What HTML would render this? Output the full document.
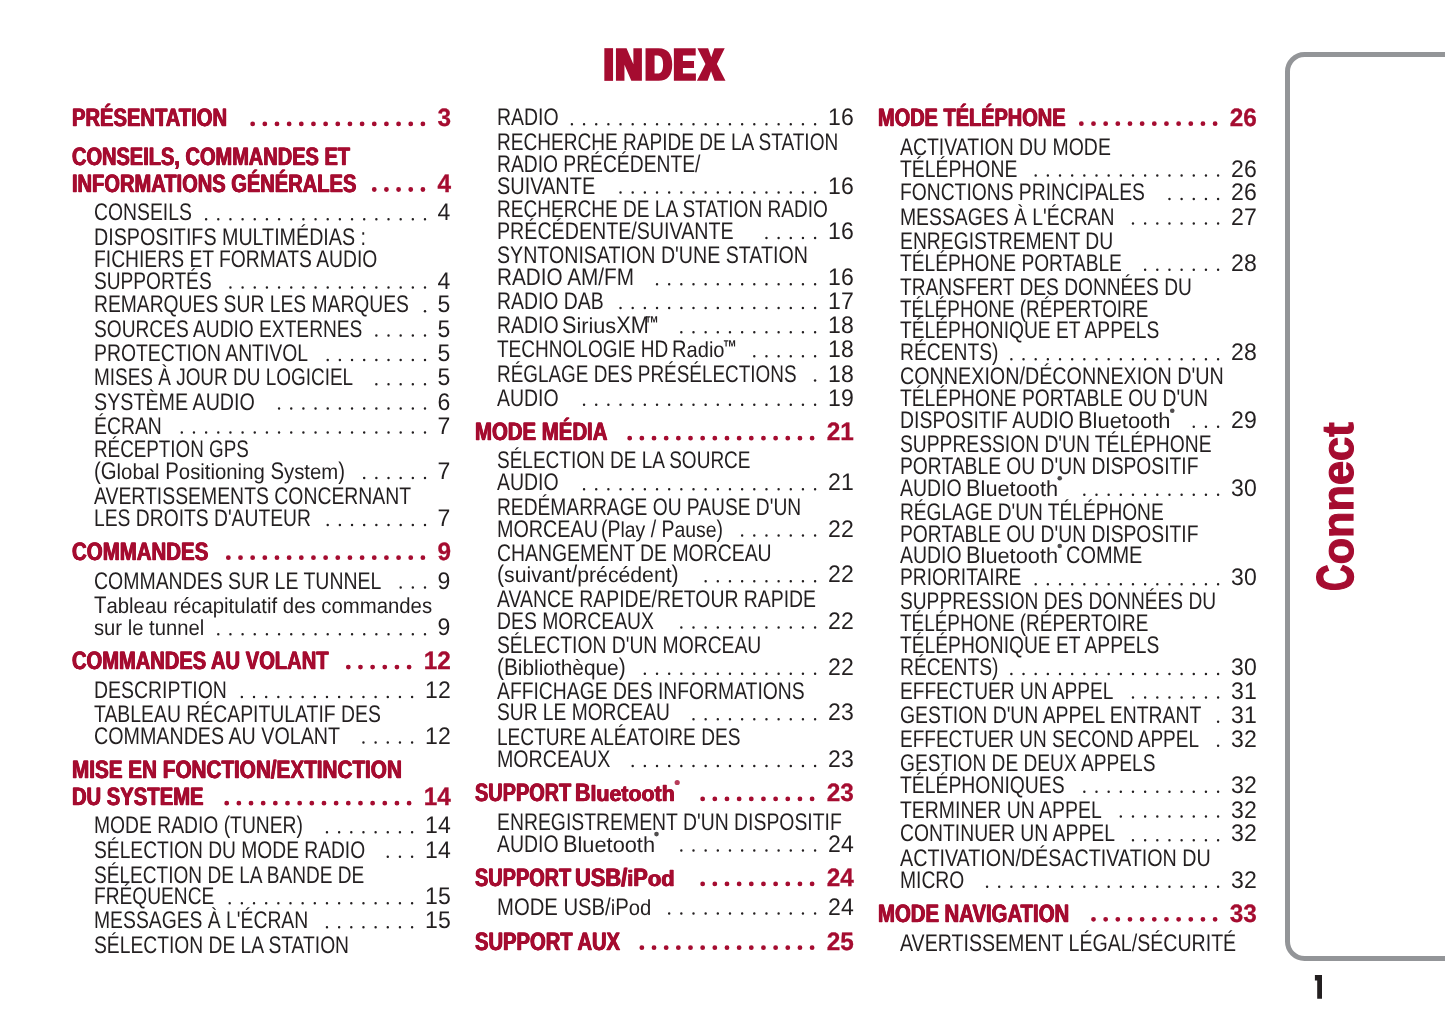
<!DOCTYPE html>
<html lang="fr">
<head>
<meta charset="utf-8">
<title>INDEX</title>
<style>
html,body{margin:0;padding:0;background:#fff;overflow:hidden;}
html{width:1445px;height:1020px;}
body{width:1445px;height:1020px;position:relative;overflow:hidden;font-family:"Liberation Sans",sans-serif;}
.t{position:absolute;white-space:pre;line-height:1;transform-origin:0 0;text-rendering:geometricPrecision;}
.i{color:#231f20;font-size:24px;font-weight:400;}
.h{color:#a50c30;font-size:25.1px;font-weight:700;-webkit-text-stroke:0.3px #a50c30;text-shadow:0.6px 0 0 #a50c30,-0.6px 0 0 #a50c30;}
.hp{color:#a50c30;font-size:25.1px;font-weight:700;-webkit-text-stroke:0.3px #a50c30;}
.lc{display:inline-block;}
.i .lc{transform:scaleY(0.9);transform-origin:0 19px;}
.h .lc{transform:scaleY(0.88);transform-origin:0 20px;}
.p{position:absolute;white-space:pre;line-height:1;text-align:right;transform-origin:100% 0;text-rendering:geometricPrecision;}
svg{position:absolute;left:0;top:0;}
#page{position:absolute;left:0;top:0;width:1445px;height:1020px;will-change:transform;overflow:hidden;}
</style>
</head>
<body>
<div id="page">
<div style="position:absolute;left:1284.8px;top:52.3px;width:300px;height:908.4px;box-sizing:border-box;border:5px solid #939598;border-radius:19.5px;"></div>
<div class="t h" style="left:71.50px;top:106px;transform:scaleX(0.8037)">PRÉSENTATION</div>
<div class="t h" style="left:71.50px;top:145px;transform:scaleX(0.7977)">CONSEILS, COMMANDES ET</div>
<div class="t h" style="left:71.50px;top:172px;transform:scaleX(0.8008)">INFORMATIONS GÉNÉRALES</div>
<div class="t i" style="left:93.70px;top:201px;transform:scaleX(0.8064)">CONSEILS</div>
<div class="t i" style="left:93.70px;top:226px;transform:scaleX(0.8204)">DISPOSITIFS MULTIMÉDIAS :</div>
<div class="t i" style="left:93.70px;top:248px;transform:scaleX(0.8039)">FICHIERS ET FORMATS AUDIO</div>
<div class="t i" style="left:93.70px;top:270px;transform:scaleX(0.7970)">SUPPORTÉS</div>
<div class="t i" style="left:93.70px;top:293px;transform:scaleX(0.8033)">REMARQUES SUR LES MARQUES</div>
<div class="t i" style="left:93.70px;top:318px;transform:scaleX(0.7986)">SOURCES AUDIO EXTERNES</div>
<div class="t i" style="left:93.70px;top:342px;transform:scaleX(0.8066)">PROTECTION ANTIVOL</div>
<div class="t i" style="left:93.70px;top:366px;transform:scaleX(0.7897)">MISES À JOUR DU LOGICIEL</div>
<div class="t i" style="left:93.70px;top:391px;transform:scaleX(0.8206)">SYSTÈME AUDIO</div>
<div class="t i" style="left:93.70px;top:415px;transform:scaleX(0.8078)">ÉCRAN</div>
<div class="t i" style="left:93.70px;top:438px;transform:scaleX(0.7840)">RÉCEPTION GPS</div>
<div class="t i" style="left:93.70px;top:460px;transform:scaleX(0.8475)">(G<span class="lc">lobal</span> P<span class="lc">ositioning</span> S<span class="lc">ystem</span>)</div>
<div class="t i" style="left:93.70px;top:485px;transform:scaleX(0.8079)">AVERTISSEMENTS CONCERNANT</div>
<div class="t i" style="left:93.70px;top:507px;transform:scaleX(0.8035)">LES DROITS D'AUTEUR</div>
<div class="t h" style="left:71.50px;top:540px;transform:scaleX(0.8149)">COMMANDES</div>
<div class="t i" style="left:93.70px;top:570px;transform:scaleX(0.8111)">COMMANDES SUR LE TUNNEL</div>
<div class="t i" style="left:93.70px;top:594px;transform:scaleX(0.8475)">T<span class="lc">ableau</span> <span class="lc">récapitulatif</span> <span class="lc">des</span> <span class="lc">commandes</span></div>
<div class="t i" style="left:93.70px;top:616px;transform:scaleX(0.8423)"><span class="lc">sur</span> <span class="lc">le</span> <span class="lc">tunnel</span></div>
<div class="t h" style="left:71.50px;top:649px;transform:scaleX(0.8023)">COMMANDES AU VOLANT</div>
<div class="t i" style="left:93.70px;top:679px;transform:scaleX(0.8101)">DESCRIPTION</div>
<div class="t i" style="left:93.70px;top:703px;transform:scaleX(0.8077)">TABLEAU RÉCAPITULATIF DES</div>
<div class="t i" style="left:93.70px;top:725px;transform:scaleX(0.8200)">COMMANDES AU VOLANT</div>
<div class="t h" style="left:71.50px;top:758px;transform:scaleX(0.8244)">MISE EN FONCTION/EXTINCTION</div>
<div class="t h" style="left:71.50px;top:785px;transform:scaleX(0.8061)">DU SYSTEME</div>
<div class="t i" style="left:93.70px;top:814px;transform:scaleX(0.8037)">MODE RADIO (TUNER)</div>
<div class="t i" style="left:93.70px;top:839px;transform:scaleX(0.8005)">SÉLECTION DU MODE RADIO</div>
<div class="t i" style="left:93.70px;top:864px;transform:scaleX(0.7947)">SÉLECTION DE LA BANDE DE</div>
<div class="t i" style="left:93.70px;top:885px;transform:scaleX(0.7983)">FRÉQUENCE</div>
<div class="t i" style="left:93.70px;top:909px;transform:scaleX(0.8053)">MESSAGES À L'ÉCRAN</div>
<div class="t i" style="left:93.70px;top:934px;transform:scaleX(0.8023)">SÉLECTION DE LA STATION</div>
<div class="t i" style="left:496.70px;top:106px;transform:scaleX(0.8103)">RADIO</div>
<div class="t i" style="left:496.70px;top:131px;transform:scaleX(0.7938)">RECHERCHE RAPIDE DE LA STATION</div>
<div class="t i" style="left:496.70px;top:153px;transform:scaleX(0.8026)">RADIO PRÉCÉDENTE/</div>
<div class="t i" style="left:496.70px;top:175px;transform:scaleX(0.8310)">SUIVANTE</div>
<div class="t i" style="left:496.70px;top:198px;transform:scaleX(0.7944)">RECHERCHE DE LA STATION RADIO</div>
<div class="t i" style="left:496.70px;top:220px;transform:scaleX(0.8188)">PRÉCÉDENTE/SUIVANTE</div>
<div class="t i" style="left:496.70px;top:244px;transform:scaleX(0.8177)">SYNTONISATION D'UNE STATION</div>
<div class="t i" style="left:496.70px;top:266px;transform:scaleX(0.8628)">RADIO AM/FM</div>
<div class="t i" style="left:496.70px;top:290px;transform:scaleX(0.8081)">RADIO DAB</div>
<div class="t i" style="left:496.70px;top:314px;transform:scaleX(0.8099)">RADIO</div>
<div class="t i" style="left:561.70px;top:314px;transform:scaleX(0.9030)">S<span class="lc">irius</span>XM</div>
<div class="t i" style="left:496.70px;top:338px;transform:scaleX(0.7929)">TECHNOLOGIE HD</div>
<div class="t i" style="left:672.45px;top:338px;transform:scaleX(0.8377)">R<span class="lc">adio</span></div>
<div class="t i" style="left:496.70px;top:363px;transform:scaleX(0.7880)">RÉGLAGE DES PRÉSÉLECTIONS</div>
<div class="t i" style="left:496.70px;top:387px;transform:scaleX(0.8103)">AUDIO</div>
<div class="t h" style="left:474.50px;top:420px;transform:scaleX(0.8123)">MODE MÉDIA</div>
<div class="t i" style="left:496.70px;top:449px;transform:scaleX(0.7920)">SÉLECTION DE LA SOURCE</div>
<div class="t i" style="left:496.70px;top:471px;transform:scaleX(0.8103)">AUDIO</div>
<div class="t i" style="left:496.70px;top:496px;transform:scaleX(0.7999)">REDÉMARRAGE OU PAUSE D'UN</div>
<div class="t i" style="left:496.70px;top:518px;transform:scaleX(0.8231)">MORCEAU</div>
<div class="t i" style="left:601.35px;top:518px;transform:scaleX(0.8097)">(P<span class="lc">lay</span> / P<span class="lc">ause</span>)</div>
<div class="t i" style="left:496.70px;top:542px;transform:scaleX(0.8086)">CHANGEMENT DE MORCEAU</div>
<div class="t i" style="left:496.70px;top:563px;transform:scaleX(0.8843)">(<span class="lc">suivant</span>/<span class="lc">précédent</span>)</div>
<div class="t i" style="left:496.70px;top:588px;transform:scaleX(0.8082)">AVANCE RAPIDE/RETOUR RAPIDE</div>
<div class="t i" style="left:496.70px;top:610px;transform:scaleX(0.8061)">DES MORCEAUX</div>
<div class="t i" style="left:496.70px;top:634px;transform:scaleX(0.8042)">SÉLECTION D'UN MORCEAU</div>
<div class="t i" style="left:496.70px;top:656px;transform:scaleX(0.8687)">(B<span class="lc">ibliothèque</span>)</div>
<div class="t i" style="left:496.70px;top:680px;transform:scaleX(0.8048)">AFFICHAGE DES INFORMATIONS</div>
<div class="t i" style="left:496.70px;top:701px;transform:scaleX(0.7999)">SUR LE MORCEAU</div>
<div class="t i" style="left:496.70px;top:726px;transform:scaleX(0.7959)">LECTURE ALÉATOIRE DES</div>
<div class="t i" style="left:496.70px;top:748px;transform:scaleX(0.8174)">MORCEAUX</div>
<div class="t h" style="left:474.50px;top:781px;transform:scaleX(0.7927)">SUPPORT</div>
<div class="t h" style="left:575.34px;top:781px;transform:scaleX(0.8518)">B<span class="lc">luetooth</span></div>
<div class="t i" style="left:496.70px;top:811px;transform:scaleX(0.8078)">ENREGISTREMENT D'UN DISPOSITIF</div>
<div class="t i" style="left:496.70px;top:833px;transform:scaleX(0.8092)">AUDIO</div>
<div class="t i" style="left:563.10px;top:833px;transform:scaleX(0.9071)">B<span class="lc">luetooth</span></div>
<div class="t h" style="left:474.50px;top:866px;transform:scaleX(0.7927)">SUPPORT</div>
<div class="t h" style="left:575.34px;top:866px;transform:scaleX(0.8709)">USB/<span class="lc">i</span>P<span class="lc">od</span></div>
<div class="t i" style="left:496.70px;top:896px;transform:scaleX(0.8445)">MODE USB/<span class="lc">i</span>P<span class="lc">od</span></div>
<div class="t h" style="left:474.50px;top:930px;transform:scaleX(0.8042)">SUPPORT AUX</div>
<div class="t h" style="left:877.50px;top:106px;transform:scaleX(0.7958)">MODE TÉLÉPHONE</div>
<div class="t i" style="left:899.70px;top:136px;transform:scaleX(0.8095)">ACTIVATION DU MODE</div>
<div class="t i" style="left:899.70px;top:158px;transform:scaleX(0.8069)">TÉLÉPHONE</div>
<div class="t i" style="left:899.70px;top:181px;transform:scaleX(0.8031)">FONCTIONS PRINCIPALES</div>
<div class="t i" style="left:899.70px;top:206px;transform:scaleX(0.8064)">MESSAGES À L'ÉCRAN</div>
<div class="t i" style="left:899.70px;top:230px;transform:scaleX(0.8045)">ENREGISTREMENT DU</div>
<div class="t i" style="left:899.70px;top:252px;transform:scaleX(0.7985)">TÉLÉPHONE PORTABLE</div>
<div class="t i" style="left:899.70px;top:276px;transform:scaleX(0.7978)">TRANSFERT DES DONNÉES DU</div>
<div class="t i" style="left:899.70px;top:298px;transform:scaleX(0.7880)">TÉLÉPHONE (RÉPERTOIRE</div>
<div class="t i" style="left:899.70px;top:319px;transform:scaleX(0.8012)">TÉLÉPHONIQUE ET APPELS</div>
<div class="t i" style="left:899.70px;top:341px;transform:scaleX(0.8028)">RÉCENTS)</div>
<div class="t i" style="left:899.70px;top:365px;transform:scaleX(0.8219)">CONNEXION/DÉCONNEXION D'UN</div>
<div class="t i" style="left:899.70px;top:387px;transform:scaleX(0.8023)">TÉLÉPHONE PORTABLE OU D'UN</div>
<div class="t i" style="left:899.70px;top:409px;transform:scaleX(0.8095)">DISPOSITIF AUDIO</div>
<div class="t i" style="left:1077.90px;top:409px;transform:scaleX(0.9125)">B<span class="lc">luetooth</span></div>
<div class="t i" style="left:899.70px;top:433px;transform:scaleX(0.8023)">SUPPRESSION D'UN TÉLÉPHONE</div>
<div class="t i" style="left:899.70px;top:455px;transform:scaleX(0.8028)">PORTABLE OU D'UN DISPOSITIF</div>
<div class="t i" style="left:899.70px;top:477px;transform:scaleX(0.8092)">AUDIO</div>
<div class="t i" style="left:966.10px;top:477px;transform:scaleX(0.9076)">B<span class="lc">luetooth</span></div>
<div class="t i" style="left:899.70px;top:501px;transform:scaleX(0.7969)">RÉGLAGE D'UN TÉLÉPHONE</div>
<div class="t i" style="left:899.70px;top:523px;transform:scaleX(0.8028)">PORTABLE OU D'UN DISPOSITIF</div>
<div class="t i" style="left:899.70px;top:544px;transform:scaleX(0.8092)">AUDIO</div>
<div class="t i" style="left:966.10px;top:544px;transform:scaleX(0.9076)">B<span class="lc">luetooth</span></div>
<div class="t i" style="left:1066.20px;top:544px;transform:scaleX(0.8307)">COMME</div>
<div class="t i" style="left:899.70px;top:566px;transform:scaleX(0.8004)">PRIORITAIRE</div>
<div class="t i" style="left:899.70px;top:590px;transform:scaleX(0.7980)">SUPPRESSION DES DONNÉES DU</div>
<div class="t i" style="left:899.70px;top:612px;transform:scaleX(0.7880)">TÉLÉPHONE (RÉPERTOIRE</div>
<div class="t i" style="left:899.70px;top:634px;transform:scaleX(0.8012)">TÉLÉPHONIQUE ET APPELS</div>
<div class="t i" style="left:899.70px;top:656px;transform:scaleX(0.8028)">RÉCENTS)</div>
<div class="t i" style="left:899.70px;top:680px;transform:scaleX(0.7958)">EFFECTUER UN APPEL</div>
<div class="t i" style="left:899.70px;top:704px;transform:scaleX(0.8078)">GESTION D'UN APPEL ENTRANT</div>
<div class="t i" style="left:899.70px;top:728px;transform:scaleX(0.7923)">EFFECTUER UN SECOND APPEL</div>
<div class="t i" style="left:899.70px;top:752px;transform:scaleX(0.7983)">GESTION DE DEUX APPELS</div>
<div class="t i" style="left:899.70px;top:774px;transform:scaleX(0.8069)">TÉLÉPHONIQUES</div>
<div class="t i" style="left:899.70px;top:799px;transform:scaleX(0.8088)">TERMINER UN APPEL</div>
<div class="t i" style="left:899.70px;top:822px;transform:scaleX(0.8059)">CONTINUER UN APPEL</div>
<div class="t i" style="left:899.70px;top:847px;transform:scaleX(0.8215)">ACTIVATION/DÉSACTIVATION DU</div>
<div class="t i" style="left:899.70px;top:869px;transform:scaleX(0.8027)">MICRO</div>
<div class="t h" style="left:877.50px;top:902px;transform:scaleX(0.8096)">MODE NAVIGATION</div>
<div class="t i" style="left:899.70px;top:932px;transform:scaleX(0.8157)">AVERTISSEMENT LÉGAL/SÉCURITÉ</div>
<div class="p hp" style="right:994.00px;top:106px;transform:scaleX(0.970)">3</div>
<div class="p hp" style="right:994.00px;top:172px;transform:scaleX(0.970)">4</div>
<div class="p i" style="right:994.60px;top:201px;transform:scaleX(0.960)">4</div>
<div class="p i" style="right:994.60px;top:270px;transform:scaleX(0.960)">4</div>
<div class="p i" style="right:994.60px;top:293px;transform:scaleX(0.960)">5</div>
<div class="p i" style="right:994.60px;top:318px;transform:scaleX(0.960)">5</div>
<div class="p i" style="right:994.60px;top:342px;transform:scaleX(0.960)">5</div>
<div class="p i" style="right:994.60px;top:366px;transform:scaleX(0.960)">5</div>
<div class="p i" style="right:994.60px;top:391px;transform:scaleX(0.960)">6</div>
<div class="p i" style="right:994.60px;top:415px;transform:scaleX(0.960)">7</div>
<div class="p i" style="right:994.60px;top:460px;transform:scaleX(0.960)">7</div>
<div class="p i" style="right:994.60px;top:507px;transform:scaleX(0.960)">7</div>
<div class="p hp" style="right:994.00px;top:540px;transform:scaleX(0.970)">9</div>
<div class="p i" style="right:994.60px;top:570px;transform:scaleX(0.960)">9</div>
<div class="p i" style="right:994.60px;top:616px;transform:scaleX(0.960)">9</div>
<div class="p hp" style="right:994.00px;top:649px;transform:scaleX(0.970)">12</div>
<div class="p i" style="right:994.60px;top:679px;transform:scaleX(0.960)">12</div>
<div class="p i" style="right:994.60px;top:725px;transform:scaleX(0.960)">12</div>
<div class="p hp" style="right:994.00px;top:785px;transform:scaleX(0.970)">14</div>
<div class="p i" style="right:994.60px;top:814px;transform:scaleX(0.960)">14</div>
<div class="p i" style="right:994.60px;top:839px;transform:scaleX(0.960)">14</div>
<div class="p i" style="right:994.60px;top:885px;transform:scaleX(0.960)">15</div>
<div class="p i" style="right:994.60px;top:909px;transform:scaleX(0.960)">15</div>
<div class="p i" style="right:591.60px;top:106px;transform:scaleX(0.960)">16</div>
<div class="p i" style="right:591.60px;top:175px;transform:scaleX(0.960)">16</div>
<div class="p i" style="right:591.60px;top:220px;transform:scaleX(0.960)">16</div>
<div class="p i" style="right:591.60px;top:266px;transform:scaleX(0.960)">16</div>
<div class="p i" style="right:591.60px;top:290px;transform:scaleX(0.960)">17</div>
<div class="p i" style="right:591.60px;top:314px;transform:scaleX(0.960)">18</div>
<div class="p i" style="right:591.60px;top:338px;transform:scaleX(0.960)">18</div>
<div class="p i" style="right:591.60px;top:363px;transform:scaleX(0.960)">18</div>
<div class="p i" style="right:591.60px;top:387px;transform:scaleX(0.960)">19</div>
<div class="p hp" style="right:591.00px;top:420px;transform:scaleX(0.970)">21</div>
<div class="p i" style="right:591.60px;top:471px;transform:scaleX(0.960)">21</div>
<div class="p i" style="right:591.60px;top:518px;transform:scaleX(0.960)">22</div>
<div class="p i" style="right:591.60px;top:563px;transform:scaleX(0.960)">22</div>
<div class="p i" style="right:591.60px;top:610px;transform:scaleX(0.960)">22</div>
<div class="p i" style="right:591.60px;top:656px;transform:scaleX(0.960)">22</div>
<div class="p i" style="right:591.60px;top:701px;transform:scaleX(0.960)">23</div>
<div class="p i" style="right:591.60px;top:748px;transform:scaleX(0.960)">23</div>
<div class="p hp" style="right:591.00px;top:781px;transform:scaleX(0.970)">23</div>
<div class="p i" style="right:591.60px;top:833px;transform:scaleX(0.960)">24</div>
<div class="p hp" style="right:591.00px;top:866px;transform:scaleX(0.970)">24</div>
<div class="p i" style="right:591.60px;top:896px;transform:scaleX(0.960)">24</div>
<div class="p hp" style="right:591.00px;top:930px;transform:scaleX(0.970)">25</div>
<div class="p hp" style="right:188.00px;top:106px;transform:scaleX(0.970)">26</div>
<div class="p i" style="right:188.60px;top:158px;transform:scaleX(0.960)">26</div>
<div class="p i" style="right:188.60px;top:181px;transform:scaleX(0.960)">26</div>
<div class="p i" style="right:188.60px;top:206px;transform:scaleX(0.960)">27</div>
<div class="p i" style="right:188.60px;top:252px;transform:scaleX(0.960)">28</div>
<div class="p i" style="right:188.60px;top:341px;transform:scaleX(0.960)">28</div>
<div class="p i" style="right:188.60px;top:409px;transform:scaleX(0.960)">29</div>
<div class="p i" style="right:188.60px;top:477px;transform:scaleX(0.960)">30</div>
<div class="p i" style="right:188.60px;top:566px;transform:scaleX(0.960)">30</div>
<div class="p i" style="right:188.60px;top:656px;transform:scaleX(0.960)">30</div>
<div class="p i" style="right:188.60px;top:680px;transform:scaleX(0.960)">31</div>
<div class="p i" style="right:188.60px;top:704px;transform:scaleX(0.960)">31</div>
<div class="p i" style="right:188.60px;top:728px;transform:scaleX(0.960)">32</div>
<div class="p i" style="right:188.60px;top:774px;transform:scaleX(0.960)">32</div>
<div class="p i" style="right:188.60px;top:799px;transform:scaleX(0.960)">32</div>
<div class="p i" style="right:188.60px;top:822px;transform:scaleX(0.960)">32</div>
<div class="p i" style="right:188.60px;top:869px;transform:scaleX(0.960)">32</div>
<div class="p hp" style="right:188.00px;top:902px;transform:scaleX(0.970)">33</div>
<div class="t" style="left:645.30px;top:313.70px;font-size:20px;font-weight:700;color:#231f20;transform:scaleX(0.69)">™</div>
<div class="t" style="left:723.40px;top:337.70px;font-size:20px;font-weight:700;color:#231f20;transform:scaleX(0.69)">™</div>
<svg width="1445" height="1020" viewBox="0 0 1445 1020" aria-hidden="true">
<line x1="252.66" y1="123.90" x2="422.91" y2="123.90" stroke="#a50c30" stroke-width="4.8" stroke-linecap="round" stroke-dasharray="0 12.16"/>
<line x1="374.26" y1="189.50" x2="422.91" y2="189.50" stroke="#a50c30" stroke-width="4.8" stroke-linecap="round" stroke-dasharray="0 12.16"/>
<line x1="206.12" y1="219.25" x2="425.01" y2="219.25" stroke="#231f20" stroke-width="2.45" stroke-linecap="round" stroke-dasharray="0 12.16"/>
<line x1="230.44" y1="287.50" x2="425.01" y2="287.50" stroke="#231f20" stroke-width="2.45" stroke-linecap="round" stroke-dasharray="0 12.16"/>
<line x1="425.00" y1="311.15" x2="425.01" y2="311.15" stroke="#231f20" stroke-width="2.45" stroke-linecap="round" stroke-dasharray="0 12.16"/>
<line x1="376.36" y1="335.50" x2="425.01" y2="335.50" stroke="#231f20" stroke-width="2.45" stroke-linecap="round" stroke-dasharray="0 12.16"/>
<line x1="327.72" y1="360.00" x2="425.01" y2="360.00" stroke="#231f20" stroke-width="2.45" stroke-linecap="round" stroke-dasharray="0 12.16"/>
<line x1="376.36" y1="384.25" x2="425.01" y2="384.25" stroke="#231f20" stroke-width="2.45" stroke-linecap="round" stroke-dasharray="0 12.16"/>
<line x1="279.08" y1="408.50" x2="425.01" y2="408.50" stroke="#231f20" stroke-width="2.45" stroke-linecap="round" stroke-dasharray="0 12.16"/>
<line x1="181.80" y1="432.50" x2="425.01" y2="432.50" stroke="#231f20" stroke-width="2.45" stroke-linecap="round" stroke-dasharray="0 12.16"/>
<line x1="364.20" y1="478.00" x2="425.01" y2="478.00" stroke="#231f20" stroke-width="2.45" stroke-linecap="round" stroke-dasharray="0 12.16"/>
<line x1="327.72" y1="525.00" x2="425.01" y2="525.00" stroke="#231f20" stroke-width="2.45" stroke-linecap="round" stroke-dasharray="0 12.16"/>
<line x1="228.34" y1="557.70" x2="422.91" y2="557.70" stroke="#a50c30" stroke-width="4.8" stroke-linecap="round" stroke-dasharray="0 12.16"/>
<line x1="400.68" y1="587.50" x2="425.01" y2="587.50" stroke="#231f20" stroke-width="2.45" stroke-linecap="round" stroke-dasharray="0 12.16"/>
<line x1="218.28" y1="634.25" x2="425.01" y2="634.25" stroke="#231f20" stroke-width="2.45" stroke-linecap="round" stroke-dasharray="0 12.16"/>
<line x1="348.30" y1="667.10" x2="409.11" y2="667.10" stroke="#a50c30" stroke-width="4.8" stroke-linecap="round" stroke-dasharray="0 12.16"/>
<line x1="241.86" y1="697.05" x2="412.11" y2="697.05" stroke="#231f20" stroke-width="2.45" stroke-linecap="round" stroke-dasharray="0 12.16"/>
<line x1="363.46" y1="742.55" x2="412.11" y2="742.55" stroke="#231f20" stroke-width="2.45" stroke-linecap="round" stroke-dasharray="0 12.16"/>
<line x1="226.70" y1="803.20" x2="409.11" y2="803.20" stroke="#a50c30" stroke-width="4.8" stroke-linecap="round" stroke-dasharray="0 12.16"/>
<line x1="326.98" y1="832.25" x2="412.11" y2="832.25" stroke="#231f20" stroke-width="2.45" stroke-linecap="round" stroke-dasharray="0 12.16"/>
<line x1="387.78" y1="856.75" x2="412.11" y2="856.75" stroke="#231f20" stroke-width="2.45" stroke-linecap="round" stroke-dasharray="0 12.16"/>
<line x1="229.70" y1="903.25" x2="412.11" y2="903.25" stroke="#231f20" stroke-width="2.45" stroke-linecap="round" stroke-dasharray="0 12.16"/>
<line x1="326.98" y1="927.25" x2="412.11" y2="927.25" stroke="#231f20" stroke-width="2.45" stroke-linecap="round" stroke-dasharray="0 12.16"/>
<line x1="571.90" y1="124.25" x2="815.11" y2="124.25" stroke="#231f20" stroke-width="2.45" stroke-linecap="round" stroke-dasharray="0 12.16"/>
<line x1="620.54" y1="192.45" x2="815.11" y2="192.45" stroke="#231f20" stroke-width="2.45" stroke-linecap="round" stroke-dasharray="0 12.16"/>
<line x1="766.46" y1="238.00" x2="815.11" y2="238.00" stroke="#231f20" stroke-width="2.45" stroke-linecap="round" stroke-dasharray="0 12.16"/>
<line x1="657.02" y1="284.25" x2="815.11" y2="284.25" stroke="#231f20" stroke-width="2.45" stroke-linecap="round" stroke-dasharray="0 12.16"/>
<line x1="620.54" y1="308.00" x2="815.11" y2="308.00" stroke="#231f20" stroke-width="2.45" stroke-linecap="round" stroke-dasharray="0 12.16"/>
<line x1="681.34" y1="332.25" x2="815.11" y2="332.25" stroke="#231f20" stroke-width="2.45" stroke-linecap="round" stroke-dasharray="0 12.16"/>
<line x1="754.30" y1="356.25" x2="815.11" y2="356.25" stroke="#231f20" stroke-width="2.45" stroke-linecap="round" stroke-dasharray="0 12.16"/>
<line x1="815.10" y1="380.50" x2="815.11" y2="380.50" stroke="#231f20" stroke-width="2.45" stroke-linecap="round" stroke-dasharray="0 12.16"/>
<line x1="584.06" y1="404.75" x2="815.11" y2="404.75" stroke="#231f20" stroke-width="2.45" stroke-linecap="round" stroke-dasharray="0 12.16"/>
<line x1="629.70" y1="438.20" x2="812.11" y2="438.20" stroke="#a50c30" stroke-width="4.8" stroke-linecap="round" stroke-dasharray="0 12.16"/>
<line x1="584.06" y1="489.25" x2="815.11" y2="489.25" stroke="#231f20" stroke-width="2.45" stroke-linecap="round" stroke-dasharray="0 12.16"/>
<line x1="742.14" y1="535.50" x2="815.11" y2="535.50" stroke="#231f20" stroke-width="2.45" stroke-linecap="round" stroke-dasharray="0 12.16"/>
<line x1="705.66" y1="581.25" x2="815.11" y2="581.25" stroke="#231f20" stroke-width="2.45" stroke-linecap="round" stroke-dasharray="0 12.16"/>
<line x1="681.34" y1="627.50" x2="815.11" y2="627.50" stroke="#231f20" stroke-width="2.45" stroke-linecap="round" stroke-dasharray="0 12.16"/>
<line x1="644.86" y1="673.75" x2="815.11" y2="673.75" stroke="#231f20" stroke-width="2.45" stroke-linecap="round" stroke-dasharray="0 12.16"/>
<line x1="693.50" y1="719.25" x2="815.11" y2="719.25" stroke="#231f20" stroke-width="2.45" stroke-linecap="round" stroke-dasharray="0 12.16"/>
<line x1="632.70" y1="766.00" x2="815.11" y2="766.00" stroke="#231f20" stroke-width="2.45" stroke-linecap="round" stroke-dasharray="0 12.16"/>
<line x1="702.66" y1="798.95" x2="812.11" y2="798.95" stroke="#a50c30" stroke-width="4.8" stroke-linecap="round" stroke-dasharray="0 12.16"/>
<line x1="681.34" y1="850.50" x2="815.11" y2="850.50" stroke="#231f20" stroke-width="2.45" stroke-linecap="round" stroke-dasharray="0 12.16"/>
<line x1="702.66" y1="883.95" x2="812.11" y2="883.95" stroke="#a50c30" stroke-width="4.8" stroke-linecap="round" stroke-dasharray="0 12.16"/>
<line x1="669.18" y1="913.50" x2="815.11" y2="913.50" stroke="#231f20" stroke-width="2.45" stroke-linecap="round" stroke-dasharray="0 12.16"/>
<line x1="641.86" y1="947.70" x2="812.11" y2="947.70" stroke="#a50c30" stroke-width="4.8" stroke-linecap="round" stroke-dasharray="0 12.16"/>
<line x1="1081.34" y1="123.70" x2="1215.11" y2="123.70" stroke="#a50c30" stroke-width="4.8" stroke-linecap="round" stroke-dasharray="0 12.16"/>
<line x1="1035.70" y1="175.50" x2="1218.11" y2="175.50" stroke="#231f20" stroke-width="2.45" stroke-linecap="round" stroke-dasharray="0 12.16"/>
<line x1="1169.46" y1="199.00" x2="1218.11" y2="199.00" stroke="#231f20" stroke-width="2.45" stroke-linecap="round" stroke-dasharray="0 12.16"/>
<line x1="1132.98" y1="223.50" x2="1218.11" y2="223.50" stroke="#231f20" stroke-width="2.45" stroke-linecap="round" stroke-dasharray="0 12.16"/>
<line x1="1145.14" y1="269.75" x2="1218.11" y2="269.75" stroke="#231f20" stroke-width="2.45" stroke-linecap="round" stroke-dasharray="0 12.16"/>
<line x1="1011.38" y1="359.25" x2="1218.11" y2="359.25" stroke="#231f20" stroke-width="2.45" stroke-linecap="round" stroke-dasharray="0 12.16"/>
<line x1="1193.78" y1="426.75" x2="1218.11" y2="426.75" stroke="#231f20" stroke-width="2.45" stroke-linecap="round" stroke-dasharray="0 12.16"/>
<line x1="1084.34" y1="494.75" x2="1218.11" y2="494.75" stroke="#231f20" stroke-width="2.45" stroke-linecap="round" stroke-dasharray="0 12.16"/>
<line x1="1035.70" y1="584.25" x2="1218.11" y2="584.25" stroke="#231f20" stroke-width="2.45" stroke-linecap="round" stroke-dasharray="0 12.16"/>
<line x1="1011.38" y1="673.95" x2="1218.11" y2="673.95" stroke="#231f20" stroke-width="2.45" stroke-linecap="round" stroke-dasharray="0 12.16"/>
<line x1="1132.98" y1="697.45" x2="1218.11" y2="697.45" stroke="#231f20" stroke-width="2.45" stroke-linecap="round" stroke-dasharray="0 12.16"/>
<line x1="1218.10" y1="721.75" x2="1218.11" y2="721.75" stroke="#231f20" stroke-width="2.45" stroke-linecap="round" stroke-dasharray="0 12.16"/>
<line x1="1218.10" y1="745.65" x2="1218.11" y2="745.65" stroke="#231f20" stroke-width="2.45" stroke-linecap="round" stroke-dasharray="0 12.16"/>
<line x1="1084.34" y1="791.75" x2="1218.11" y2="791.75" stroke="#231f20" stroke-width="2.45" stroke-linecap="round" stroke-dasharray="0 12.16"/>
<line x1="1120.82" y1="816.45" x2="1218.11" y2="816.45" stroke="#231f20" stroke-width="2.45" stroke-linecap="round" stroke-dasharray="0 12.16"/>
<line x1="1132.98" y1="840.25" x2="1218.11" y2="840.25" stroke="#231f20" stroke-width="2.45" stroke-linecap="round" stroke-dasharray="0 12.16"/>
<line x1="987.06" y1="886.65" x2="1218.11" y2="886.65" stroke="#231f20" stroke-width="2.45" stroke-linecap="round" stroke-dasharray="0 12.16"/>
<line x1="1093.50" y1="919.30" x2="1215.11" y2="919.30" stroke="#a50c30" stroke-width="4.8" stroke-linecap="round" stroke-dasharray="0 12.16"/>
<circle cx="677.20" cy="782.50" r="2.60" fill="#a50c30" fill-opacity="0.8"/>
<circle cx="656.50" cy="834.10" r="2.30" fill="#231f20" fill-opacity="0.8"/>
<circle cx="1172.25" cy="410.80" r="2.30" fill="#231f20" fill-opacity="0.8"/>
<circle cx="1059.75" cy="478.30" r="2.30" fill="#231f20" fill-opacity="0.8"/>
<circle cx="1059.75" cy="546.00" r="2.30" fill="#231f20" fill-opacity="0.8"/>
<g id="index">
<polygon fill="#a50c30" points="604.33,48.17 613.05,48.17 613.05,80.87 604.33,80.87"/>
<polygon fill="#a50c30" points="615.95,48.17 626.54,48.17 633.39,64.26 633.39,48.17 641.90,48.17 641.90,80.87 631.32,80.87 624.46,64.78 624.46,80.87 615.95,80.87"/>
<path fill="#a50c30" fill-rule="evenodd" d="M645.54 48.17 L658.51 48.17 C667.86 48.17 672.22 54.40 672.22 64.46 C672.22 74.64 667.86 80.87 658.51 80.87 L645.54 80.87 Z M654.57 55.43 L657.48 55.43 C661.63 55.43 663.08 59.07 663.08 64.46 C663.08 69.97 661.63 73.60 657.48 73.60 L654.57 73.60 Z"/>
<polygon fill="#a50c30" points="673.88,48.17 695.68,48.17 695.68,55.43 682.91,55.43 682.91,60.94 694.02,60.94 694.02,67.89 682.91,67.89 682.91,73.60 695.89,73.60 695.89,80.87 673.88,80.87"/>
<polygon fill="#a50c30" points="697.44,48.17 708.14,48.17 711.25,57.20 714.36,48.17 724.75,48.17 716.86,64.05 725.47,80.87 714.57,80.87 711.04,71.32 707.62,80.87 696.92,80.87 705.44,64.05"/>
</g>
<polygon fill="#231f20" points="1314.9,974.9 1322.0,974.9 1322.0,998.7 1317.2,998.7 1317.2,980.4 1314.9,980.4"/>
</svg>
<h1 style="position:absolute;left:604px;top:42px;margin:0;font-size:45px;line-height:1;font-weight:700;color:transparent;transform-origin:0 0;transform:scaleX(0.87);white-space:pre;">INDEX</h1>
<div style="position:absolute;left:1312px;top:972px;font-size:30px;line-height:1;font-weight:700;color:transparent;transform-origin:0 0;transform:scaleX(0.6);">1</div>
<div id="connect" style="position:absolute;left:1354.00px;top:590.70px;transform-origin:0 0;transform:rotate(-90deg) scale(0.8330,1) translateY(-44.00px);font-size:52px;line-height:1;font-weight:700;color:#a50c30;white-space:pre;-webkit-text-stroke:1.4px #a50c30;text-rendering:geometricPrecision;"><span style="display:inline-block;transform:scaleX(0.85);transform-origin:0 0;margin-right:-5.6px;">C</span><span style="display:inline-block;transform:scaleY(0.85);transform-origin:0 44px;">onnect</span></div>
</div>
</body>
</html>
